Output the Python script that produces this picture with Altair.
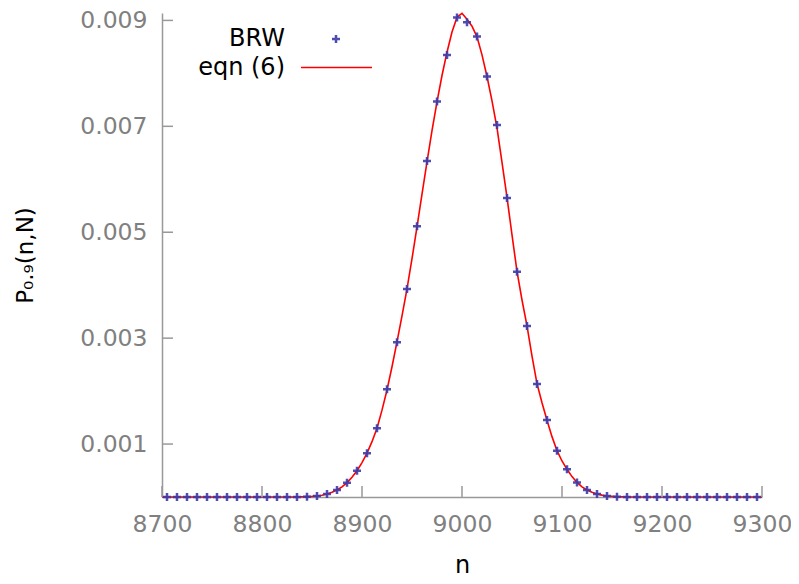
import altair as alt
import pandas as pd

# BRW simulation points (n, P)
brw_n = list(range(8705, 9300, 10))
brw_p = [0.0] * 13 + [
    0.000002, 0.000006, 0.00002, 0.000055, 0.00013, 0.00027, 0.000497, 0.000825,
    0.001298, 0.002034, 0.002922, 0.003929, 0.005113, 0.006347, 0.007467, 0.008349,
    0.009054, 0.008967, 0.008695, 0.007939, 0.007027, 0.005648, 0.004256, 0.00323,
    0.002135, 0.001454, 0.000875, 0.000523, 0.000275, 0.000132, 0.000057, 0.00002,
    0.000006, 0.000002,
] + [0.0] * 13

# eqn (6) curve (values in 1e-6)
eq_n = list(range(8700, 9305, 5))
eq_p_micro = (
    [0] * 25
    + [1, 1, 2, 4, 7, 12, 20, 33, 55, 88, 132, 192, 272, 372, 497, 650, 828, 1045,
       1300, 1640, 2020, 2460, 2930, 3420, 3930, 4500, 5100, 5720, 6330, 6920, 7460,
       7960, 8400, 8780, 9060, 9135, 9020, 8890, 8690, 8350, 7940, 7480, 6970, 6320,
       5660, 4950, 4260, 3720, 3230, 2660, 2140, 1780, 1450, 1140, 875, 680, 523, 385,
       275, 190, 132, 88, 57, 35, 20, 12, 6, 4, 2, 1]
)
eq_p_micro = eq_p_micro + [0] * (len(eq_n) - len(eq_p_micro))
eq_p = [v * 1e-6 for v in eq_p_micro]

x_ticks = [8700, 8800, 8900, 9000, 9100, 9200, 9300]
y_ticks = [0.001, 0.003, 0.005, 0.007, 0.009]
legend_labels = ["BRW", "eqn (6)"]

W, H = 600, 484
FONT = "DejaVu Sans"
GRAY = "#999999"
LABEL = "#808080"
BLUE = "#3a3aaa"
RED = "#ff0000"
PLUS = "M-1,0H1M0,-1V1"

brw = pd.DataFrame({"n": brw_n, "p": brw_p})
eq = pd.DataFrame({"n": eq_n, "p": eq_p})

xs = alt.Scale(domain=[8700, 9300], nice=False, zero=False)
ys = alt.Scale(domain=[0, 0.00914], nice=False, zero=True)

x_axis = alt.Axis(values=x_ticks, format="d", ticks=False, grid=False,
                  labelFontSize=23.5, labelColor=LABEL, labelPadding=15,
                  labelFont=FONT, domainColor=GRAY, domainWidth=1.5,
                  title="n", titleFont=FONT, titleFontSize=24, titleFontWeight="normal",
                  titleColor="black", titleX=300, titleY=68, titleBaseline="middle",
                  titleAlign="center", labelFlush=False)
y_axis = alt.Axis(values=y_ticks, format=".3f", ticks=False, grid=False,
                  labelFontSize=23.5, labelColor=LABEL, labelPadding=15,
                  labelFont=FONT, domainColor=GRAY, domainWidth=1.5,
                  title="P₀.₉(n,N)", titleFont=FONT, titleFontSize=23,
                  titleFontWeight="normal", titleColor="black", titleX=-137,
                  titleY=H / 2, titleBaseline="middle", titleAlign="center",
                  titleAngle=270)

X = alt.X("n:Q", scale=xs, axis=x_axis, title="n")
Y = alt.Y("p:Q", scale=ys, axis=y_axis, title="P₀.₉(n,N)")

line = alt.Chart(eq).mark_line(color=RED, strokeWidth=1.6).encode(x=X, y=Y)

pts = alt.Chart(brw).mark_point(
    shape=PLUS, filled=False, color=BLUE, strokeWidth=2.5, size=64, opacity=0.9
).encode(x=X, y=Y)

xt = alt.Chart(pd.DataFrame({"n": x_ticks})).mark_rule(color=GRAY, strokeWidth=1.5).encode(
    x=X, y=alt.value(H), y2=alt.value(H - 11)
)
yt = alt.Chart(pd.DataFrame({"p": y_ticks})).mark_rule(color=GRAY, strokeWidth=1.5).encode(
    y=Y, x=alt.value(0), x2=alt.value(11)
)

leg1 = alt.Chart(pd.DataFrame({"label": [legend_labels[0]]})).mark_text(
    align="right", baseline="middle", fontSize=24, font=FONT, color="black"
).encode(text="label:N", x=alt.value(123), y=alt.value(26))
leg2 = alt.Chart(pd.DataFrame({"label": [legend_labels[1]]})).mark_text(
    align="right", baseline="middle", fontSize=24, font=FONT, color="black"
).encode(text="label:N", x=alt.value(123), y=alt.value(55))
leg_pt = alt.Chart(pd.DataFrame({"label": [legend_labels[0]]})).mark_point(
    shape=PLUS, filled=False, color=BLUE, strokeWidth=2.5, size=64, opacity=0.9
).encode(x=alt.value(174), y=alt.value(26))
leg_line = alt.Chart(pd.DataFrame({"label": [legend_labels[1]]})).mark_rule(
    color=RED, strokeWidth=1.6
).encode(x=alt.value(139), x2=alt.value(210), y=alt.value(54.5))

chart = alt.layer(line, xt, yt, pts, leg1, leg2, leg_pt, leg_line).properties(
    width=W, height=H,
    padding={"left": 154, "top": 5, "right": 29, "bottom": 79},
    autosize=alt.AutoSizeParams(type="none"),
).configure_view(stroke=None)

chart.save("out.html", embed_options={"renderer": "svg", "actions": False})
